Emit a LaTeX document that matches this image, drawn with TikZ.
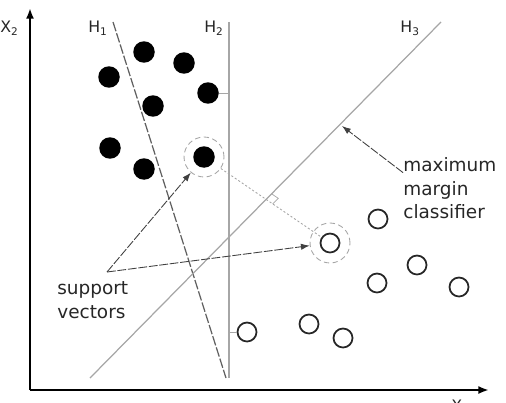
\documentclass[tikz,border=0pt]{standalone}
\usepackage{fontspec}
\setmainfont{DejaVu Sans}
\usetikzlibrary{arrows.meta,calc,positioning}

\begin{document}
\begin{tikzpicture}[x=0.02cm,y=-0.02cm,>={Latex[length=5pt,width=3.6pt]},
  font=\fontsize{10.5}{13.5}\selectfont,
  axis/.style={line width=1.3pt,-{Latex[length=6pt,width=4.5pt]}},
  hyp/.style={gray!70,line width=0.7pt},
  bpt/.style={circle,fill=black,inner sep=0pt,minimum size=4.3mm},
  wpt/.style={circle,draw=black!85,line width=1pt,inner sep=0pt,minimum size=3.8mm},
  ring/.style={circle,draw=gray!70,densely dashed,line width=0.5pt,inner sep=0pt,minimum size=8mm},
  note/.style={->,draw=gray!50!black,dash pattern=on 5pt off 1pt,line width=0.5pt},
  lab/.style={font=\fontsize{9}{10}\selectfont,text=black!85,anchor=base west,inner sep=0pt}]
\useasboundingbox (0,0) rectangle (506,402);
% axes
\coordinate (o) at (30,390);
\coordinate (ytop) at (30,8);
\coordinate (xend) at (489,390);
\draw[axis] (o) -- (ytop);
\draw[axis] (o) -- (xend);
\node[lab] (x2) at (0,33) {X\textsubscript{2}};
\node[lab] (x1) at (451,411) {X\textsubscript{1}};
% hyperplanes
\coordinate (h1t) at (113,22);  \coordinate (h1b) at (226,378);
\coordinate (h2t) at (229,22);  \coordinate (h2b) at (229,378);
\coordinate (h3t) at (441,22);  \coordinate (h3b) at (90,378);
\draw[hyp,draw=gray!75!black,dash pattern=on 5.5pt off 1.2pt] (h1t) -- (h1b);
\draw[hyp] (h2t) -- (h2b);
\draw[hyp] (h3t) -- (h3b);
\node[lab] (l1) at (88,33) {H\textsubscript{1}};
\node[lab] (l2) at (204,33) {H\textsubscript{2}};
\node[lab] (l3) at (400,33) {H\textsubscript{3}};
% the two classes
\foreach \x/\y [count=\i] in {144/52,184/63,109/77,208/93,153/106,110/148,144/169,204/157}
  \node[bpt] (b\i) at (\x,\y) {};
\foreach \x/\y [count=\i] in {247/332,309/324,343/338,330/243,378/219,417/265,377/283,459/287}
  \node[wpt] (w\i) at (\x,\y) {};
\draw[hyp,line width=0.5pt] (b4) -- (b4 -| h2t);
\draw[hyp,line width=0.5pt] (w1) -- (w1 -| h2t);
% support vectors
\node[ring] (r1) at (b8) {};
\node[ring] (r2) at (w4) {};
\draw[gray!70,line width=0.5pt,dash pattern=on 1.2pt off 1.2pt] (r1) -- (w4);
\draw[gray!70,line width=0.4pt] (271.6,193.8) -- (278.2,198.3) -- (272.6,204);
\node[anchor=north west,align=left,inner sep=0pt,text=black!85] (svlab) at (57,281) {support\\vectors};
\coordinate (sv) at (107,272);
\draw[note] (sv) -- (r1);
\draw[note] (sv) -- (r2);
% margin
\node[anchor=north west,align=left,inner sep=0pt,text=black!85] (mmlab) at (403,157) {maximum\\margin\\classifier};
\coordinate (mm) at (342,126);
\draw[note] ($(mmlab.north west)!0.25!(mmlab.south west)$) -- (mm);
\end{tikzpicture}
\end{document}
